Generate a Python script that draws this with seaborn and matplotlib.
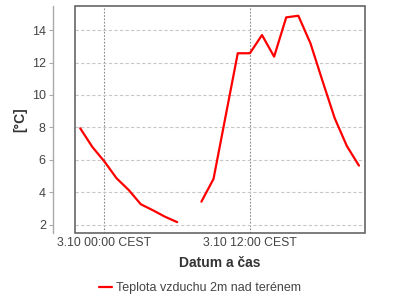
import numpy as np
import pandas as pd
import matplotlib
matplotlib.use("Agg")
import matplotlib.pyplot as plt
from matplotlib.patches import Rectangle
import seaborn as sns

# hours relative to 3.10 00:00 CEST
hours = [-2, -1, 0, 1, 2, 3, 4, 5, 6, 8, 9, 10, 11, 12, 13, 14, 15, 16, 17, 18, 19, 20, 21]
temps = [7.95, 6.8, 5.9, 4.87, 4.15, 3.27, 2.9, 2.5, 2.17,
         3.43, 4.83, 8.7, 12.57, 12.57, 13.69, 12.36, 14.78, 14.88, 13.18, 10.85, 8.57, 6.86, 5.65]
segment = [0] * 9 + [1] * 14
tick_hours = [0, 12]
tick_labels = ["3.10 00:00 CEST", "3.10 12:00 CEST"]
y_ticks = [2, 4, 6, 8, 10, 12, 14]
series_name = "Teplota vzduchu 2m nad terénem"

df = pd.DataFrame({"h": hours, "t": temps, "seg": segment})

sns.set_theme(style="white")
plt.rcParams["font.family"] = ["Liberation Sans", "DejaVu Sans"]
txt = "#444444"

fig = plt.figure(figsize=(4, 3), dpi=100)
ax = fig.add_axes([75 / 400, 1 - 233 / 300, 290 / 400, 227 / 300])

sns.lineplot(data=df, x="h", y="t", units="seg", estimator=None,
             color="#ff0000", linewidth=1.6, ax=ax, legend=False)

ax.set_xlim(-2.43, 21.5)
ax.set_ylim(1.5, 15.48)
ax.set_xticks(tick_hours)
ax.set_xticklabels(tick_labels)
ax.set_yticks(y_ticks)
ax.set_yticklabels([str(v) for v in y_ticks])

ax.xaxis.grid(True, color="#888888", linestyle=(0, (1.5, 1.5)), linewidth=0.8)
ax.yaxis.grid(True, color="#c8c8c8", linestyle=(0, (3, 2)), linewidth=0.8)
ax.set_axisbelow(True)

for s in ["top", "right", "bottom"]:
    ax.spines[s].set_visible(False)
ax.spines["left"].set_position(("outward", 16))
ax.spines["left"].set_color("#aaaaaa")
ax.spines["left"].set_linewidth(1)
ax.add_patch(Rectangle((0, 0), 1, 1, transform=ax.transAxes, fill=False,
                       edgecolor="#666666", linewidth=1.2, clip_on=False, zorder=5))

ax.tick_params(axis="y", left=True, length=3, width=0.8, color="#aaaaaa",
               pad=2, labelsize=9, labelcolor=txt)
ax.tick_params(axis="x", bottom=False, length=0, pad=3, labelsize=8.8, labelcolor=txt)

ax.set_xlabel("Datum a čas", fontsize=10, fontweight="bold", color="#333333", labelpad=5)
ax.set_ylabel("[°C]", fontsize=10, fontweight="bold", color="#333333", labelpad=3)

handle = plt.Line2D([], [], color="#ff0000", linewidth=1.6)
fig.legend([handle], [series_name], loc="center", bbox_to_anchor=(0.5, 1 - 288 / 300),
           frameon=False, fontsize=9, handlelength=1.0, handletextpad=0.35,
           labelcolor=txt)

fig.savefig("out.png", dpi=100)
